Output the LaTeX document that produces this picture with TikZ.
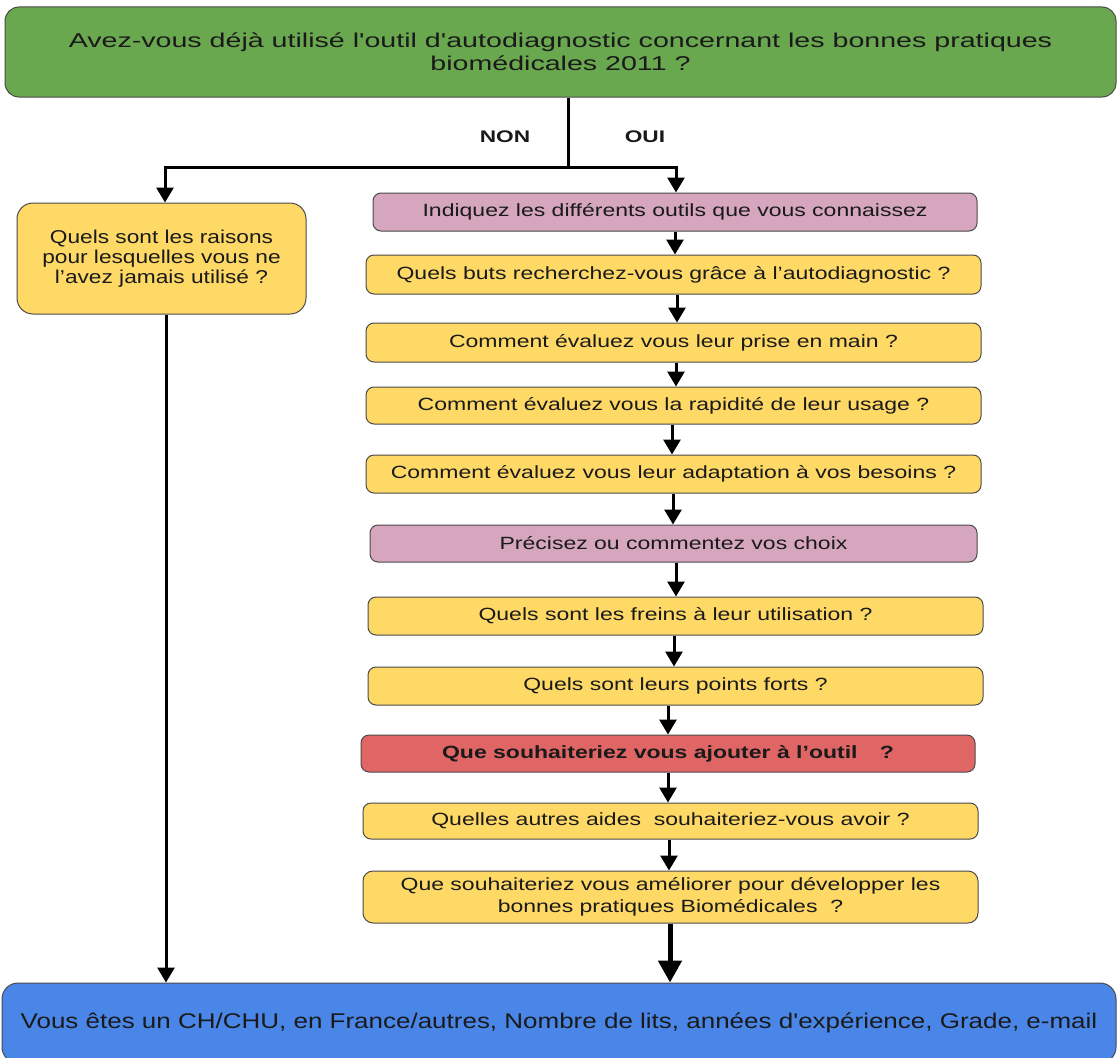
\documentclass[tikz,border=0pt]{standalone}
\usepackage{fontspec}
\newfontfamily\fTop{Liberation Sans}[FakeStretch=1.43]
\newfontfamily\fBox{Liberation Sans}[FakeStretch=1.3]
\newfontfamily\fSide{Liberation Sans}[FakeStretch=1.22]
\newfontfamily\fLab{Liberation Sans}[FakeStretch=1.35]
\usetikzlibrary{arrows.meta}
\definecolor{cgreen}{HTML}{6AA84F}
\definecolor{cyellow}{HTML}{FFD966}
\definecolor{cpink}{HTML}{D5A6BD}
\definecolor{cred}{HTML}{E06666}
\definecolor{cblue}{HTML}{4A86E8}
\definecolor{cborder}{HTML}{4A4A4A}
\definecolor{ctext}{HTML}{1A1A1A}
\begin{document}
\begin{tikzpicture}[x=1pt,y=-1pt,
  box/.style={draw=cborder, line width=1pt, rounded corners=8pt, align=center, inner sep=0pt,
              font=\fBox\fontsize{17.7}{22}\selectfont, text=ctext},
  ybox/.style={box, fill=cyellow},
  pbox/.style={box, fill=cpink},
  lab/.style={font=\fLab\bfseries\fontsize{16.8}{20}\selectfont, text=ctext},
  ln/.style={line width=3pt, draw=black},
  arr/.style={line width=3pt, -{Triangle[width=17pt,length=15pt]}},
  bigarr/.style={line width=5pt, -{Triangle[width=23pt,length=22pt]}}
]
\useasboundingbox (0,0) rectangle (1118,1057);

% top question
\node[box, fill=cgreen, rounded corners=14pt, minimum width=1111pt, minimum height=90pt,
      font=\fTop\fontsize{20}{23}\selectfont] (top) at (560.5,52)
  {Avez-vous déjà utilisé l'outil d'autodiagnostic concernant les bonnes pratiques\\biomédicales 2011 ?};

\node[lab] (non) at (505,137) {NON};
\node[lab] (oui) at (645,137) {OUI};

% left branch
\node[ybox, rounded corners=16pt, minimum width=289pt, minimum height=111pt,
      font=\fSide\fontsize{18.6}{20}\selectfont] (left) at (161.5,258.5)
  {Quels sont les raisons\\pour lesquelles vous ne\\l’avez jamais utilisé ?};

% right branch
\node[pbox, minimum width=604pt, minimum height=38pt] (p1) at (675,212) {Indiquez les différents outils que vous connaissez};
\node[ybox, minimum width=615pt, minimum height=39pt] (q1) at (673.5,274.5) {Quels buts recherchez-vous grâce à l’autodiagnostic ?};
\node[ybox, minimum width=615pt, minimum height=39pt] (q2) at (673.5,342.5) {Comment évaluez vous leur prise en main ?};
\node[ybox, minimum width=615pt, minimum height=37pt] (q3) at (673.5,405.5) {Comment évaluez vous la rapidité de leur usage ?};
\node[ybox, minimum width=615pt, minimum height=38pt] (q4) at (673.5,474) {Comment évaluez vous leur adaptation à vos besoins ?};
\node[pbox, minimum width=607pt, minimum height=37pt] (p2) at (673.5,543.5) {Précisez ou commentez vos choix};
\node[ybox, minimum width=615pt, minimum height=38pt] (q5) at (675.5,616) {Quels sont les freins à leur utilisation ?};
\node[ybox, minimum width=615pt, minimum height=38pt] (q6) at (675.5,686) {Quels sont leurs points forts ?};
\node[box, fill=cred, minimum width=614pt, minimum height=37pt] (r) at (668,753.5) {\bfseries Que souhaiteriez vous ajouter à l’outil\hspace{0.9em} ?};
\node[ybox, minimum width=615pt, minimum height=36pt] (q7) at (670.5,821) {Quelles autres aides\ \ souhaiteriez-vous avoir ?};
\node[ybox, rounded corners=10pt, minimum width=615pt, minimum height=52pt] (q8) at (670.5,897) {Que souhaiteriez vous améliorer pour développer les\\bonnes pratiques Biomédicales\ \ ?};

% bottom
\node[box, fill=cblue, rounded corners=16pt, minimum width=1114pt, minimum height=80pt,
      font=\fSide\fontsize{21.3}{25}\selectfont] (bot) at (559,1023)
  {Vous êtes un CH/CHU, en France/autres, Nombre de lits, années d'expérience, Grade, e-mail};

% split
\coordinate (j) at (568,167);
\coordinate (jl) at (165,167);
\coordinate (jr) at (676,167);
\draw[ln] (top.south -| j) -- (j);
\draw[arr] (j) -- (jl) -- (jl |- left.north);
\draw[arr] (j) -- (jr) -- (jr |- p1.north);

% chain
\draw[arr] (675,0 |- p1.south) -- (675,0 |- q1.north);
\draw[arr] (677,0 |- q1.south) -- (677,0 |- q2.north);
\draw[arr] (676,0 |- q2.south) -- (676,0 |- q3.north);
\draw[arr] (672,0 |- q3.south) -- (672,0 |- q4.north);
\draw[arr] (673,0 |- q4.south) -- (673,0 |- p2.north);
\draw[arr] (676,0 |- p2.south) -- (676,0 |- q5.north);
\draw[arr] (674,0 |- q5.south) -- (674,0 |- q6.north);
\draw[arr] (668,0 |- q6.south) -- (668,0 |- r.north);
\draw[arr] (668,0 |- r.south) -- (668,0 |- q7.north);
\draw[arr] (669,0 |- q7.south) -- (669,0 |- q8.north);
\draw[bigarr] (670,0 |- q8.south) -- (670,0 |- bot.north);
\draw[arr] (166,0 |- left.south) -- (166,0 |- bot.north);
\end{tikzpicture}
\end{document}
